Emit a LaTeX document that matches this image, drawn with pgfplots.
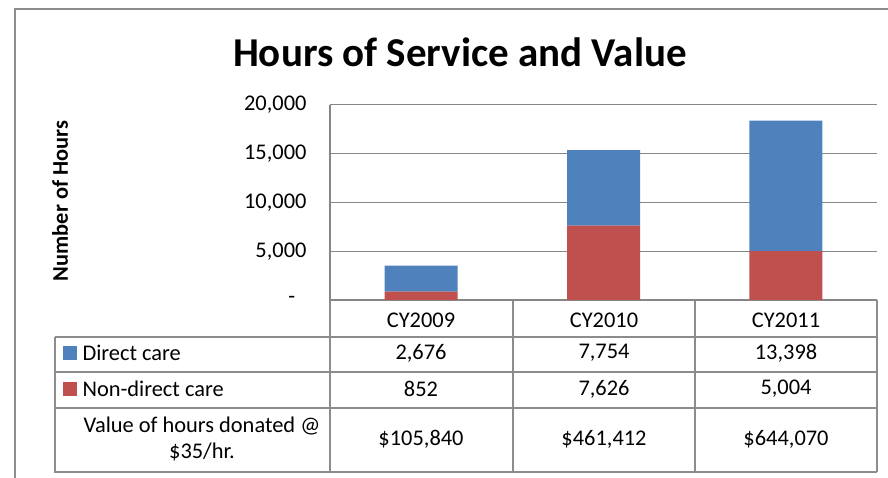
\documentclass[border=0pt]{standalone}
\usepackage{pgfplots}
\pgfplotsset{compat=1.18}
\usepackage{fontspec}
\setmainfont{Carlito}
\definecolor{exblue}{HTML}{4F81BD}
\definecolor{exred}{HTML}{C0504D}
\definecolor{grid}{HTML}{868686}
\definecolor{frame}{HTML}{8C8C8C}
\newcommand{\fs}{\fontsize{22.4}{26}\selectfont}
\begin{document}
\begin{tikzpicture}[x=1pt,y=1pt]
\path[use as bounding box] (0,0) rectangle (888,478);
% outer chart border
\draw[frame,line width=2pt] (15,0) -- (15,469) -- (888,469);
% title
\node[font=\fontsize{41}{46}\selectfont\bfseries] at (460,426) {Hours of Service and Value};
% y label
\node[rotate=90,font=\fs\bfseries] at (60,277) {Number of Hours};
\begin{axis}[
  at={(330pt,178pt)}, anchor=south west,
  scale only axis, width=547pt, height=195pt,
  xmin=-0.5, xmax=2.5, ymin=0, ymax=20000,
  ybar stacked, bar width=73pt,
  axis x line=bottom, axis y line=left,
  axis line style={-, draw=grid, line width=1.5pt},
  xtick=\empty,
  scaled y ticks=false,
  ytick={0,5000,10000,15000,20000},
  yticklabels={{-\hphantom{0}},{5,000},{10,000},{15,000},{20,000}},
  yticklabel style={font=\fs, xshift=-20pt},
  major tick length=0pt,
  ymajorgrids, grid style={draw=grid, line width=1pt},
  clip=false,
]
\addplot[fill=exred, draw=none] coordinates {(0,852) (1,7626) (2,5004)};
\addplot[fill=exblue, draw=none] coordinates {(0,2676) (1,7754) (2,13398)};
\end{axis}
% data table
\begin{scope}[draw=frame, line width=1.5pt]
\draw (330,178) -- (330,6) ;
\draw (513,178) -- (513,6);
\draw (695,178) -- (695,6);
\draw (877,178) -- (877,6);
\draw (330,141) -- (877,141);
\draw (55,141) -- (330,141);
\draw (55,141) -- (55,6) -- (877,6);
\draw (55,106) -- (877,106);
\draw (55,70) -- (877,70);
\end{scope}
% legend keys
\fill[exblue] (63,118) rectangle (77,132);
\fill[exred] (63,82) rectangle (77,96);
% row labels
\node[font=\fs, anchor=west] at (79,125) {Direct care};
\node[font=\fs, anchor=west] at (79,89) {Non-direct care};
\node[font=\fs, align=center] at (202,39) {Value of hours donated @\\\$35/hr.};
% header
\node[font=\fs] at (421,158) {CY2009};
\node[font=\fs] at (604,158) {CY2010};
\node[font=\fs] at (786,158) {CY2011};
% values
\node[font=\fs] at (421,125) {2,676};
\node[font=\fs] at (604,125) {7,754};
\node[font=\fs] at (786,125) {13,398};
\node[font=\fs] at (421,89) {852};
\node[font=\fs] at (604,89) {7,626};
\node[font=\fs] at (786,89) {5,004};
\node[font=\fs] at (421,39) {\$105,840};
\node[font=\fs] at (604,39) {\$461,412};
\node[font=\fs] at (786,39) {\$644,070};
\end{tikzpicture}
\end{document}
